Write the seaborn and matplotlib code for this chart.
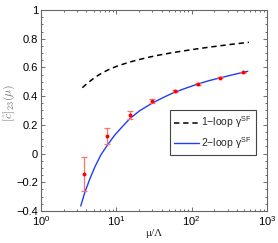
import numpy as np
import pandas as pd
import matplotlib
matplotlib.use("Agg")
import matplotlib.pyplot as plt
import seaborn as sns
from matplotlib.ticker import AutoMinorLocator, LogLocator, NullFormatter, FixedLocator

# ---- data ----
mu_1loop = [3.54, 4.2, 5.21, 6.3, 7.83, 10, 13.0, 17, 21.7, 28, 36.1, 54.4, 80, 120, 170, 240, 350, 577]
c_1loop = [0.459, 0.493, 0.531, 0.558, 0.584, 0.607, 0.627, 0.645, 0.659, 0.673, 0.685, 0.702,
           0.716, 0.730, 0.741, 0.751, 0.762, 0.775]

mu_2loop = [3.37, 3.84, 4.5, 5.21, 6.3, 7.83, 9.5, 11.2, 15.2, 20.6, 31, 45, 57, 80, 117, 170, 238, 350, 556]
c_2loop = [-0.365, -0.266, -0.170, -0.091, -0.005, 0.068, 0.128, 0.170, 0.245, 0.300, 0.356, 0.398,
           0.423, 0.452, 0.482, 0.508, 0.527, 0.549, 0.573]

mu_pts = [3.75, 7.5, 15, 30, 60, 120, 240, 480]
c_pts = [-0.144, 0.124, 0.271, 0.366, 0.434, 0.487, 0.528, 0.566]
c_err = [0.12, 0.054, 0.027, 0.012, 0.008, 0.006, 0.005, 0.005]

legend_labels = ["1\u2212loop \u03b3$^{\\mathrm{SF}}$", "2\u2212loop \u03b3$^{\\mathrm{SF}}$"]
y_ticks = [-0.4, -0.2, 0, 0.2, 0.4, 0.6, 0.8, 1]
y_ticklabels = ["\u22120.4", "\u22120.2", "0", "0.2", "0.4", "0.6", "0.8", "1"]

sns.set_style("ticks")
plt.rcParams["font.family"] = ["Liberation Sans", "DejaVu Sans"]
plt.rcParams["mathtext.fontset"] = "custom"
plt.rcParams["mathtext.rm"] = "Liberation Sans"
plt.rcParams["mathtext.it"] = "Liberation Sans:italic"
plt.rcParams["mathtext.bf"] = "Liberation Sans:bold"

fig = plt.figure(figsize=(2.78, 2.43), dpi=100)
ax = fig.add_axes([41 / 278, 32 / 243, 226 / 278, 201 / 243])

df1 = pd.DataFrame({"mu": mu_1loop, "c": c_1loop})
df2 = pd.DataFrame({"mu": mu_2loop, "c": c_2loop})
sns.lineplot(data=df1, x="mu", y="c", ax=ax, color="black", lw=1.1,
             linestyle=(0, (3.5, 2.5)), label=legend_labels[0], sort=True)
sns.lineplot(data=df2, x="mu", y="c", ax=ax, color="#1f3cff", lw=1.0,
             label=legend_labels[1], sort=True)
ax.errorbar(mu_pts, c_pts, yerr=c_err, fmt="o", ms=1.8, color="red",
            ecolor="#ff7070", elinewidth=0.9, capsize=2.2, capthick=0.9, zorder=5)

ax.set_xscale("log")
ax.set_xlim(1, 1000)
ax.set_ylim(-0.4, 1)
ax.xaxis.set_major_locator(LogLocator(base=10, numticks=10))
ax.xaxis.set_minor_locator(LogLocator(base=10, subs=np.arange(2, 10), numticks=10))
ax.xaxis.set_minor_formatter(NullFormatter())
ax.yaxis.set_major_locator(FixedLocator(y_ticks))
ax.set_yticklabels(y_ticklabels)
ax.yaxis.set_minor_locator(AutoMinorLocator(4))

ax.tick_params(which="both", direction="in", top=True, right=True, colors="#555555",
               labelcolor="black", labelsize=8, width=0.6, pad=2)
ax.tick_params(which="major", length=3)
ax.tick_params(which="minor", length=1.6)
for s in ax.spines.values():
    s.set_color("#666666")
    s.set_linewidth(0.8)

ax.set_xlabel("\u03bc/\u039b", fontsize=8, family="Liberation Serif", labelpad=1)
ax.set_ylabel(r"$[\hat{c}]_{23}(\mu)$", fontsize=8.5, color="#777777",
              math_fontfamily="cm")
ax.yaxis.set_label_coords(-0.105, 0.537)

leg = ax.legend(loc="lower right", bbox_to_anchor=(0.951, 0.279), fontsize=7.5,
                frameon=True, fancybox=False, handlelength=2.4, handletextpad=0.2,
                borderpad=0.4, labelspacing=0.45, borderaxespad=0)
leg.get_frame().set_edgecolor("#444444")
leg.get_frame().set_linewidth(0.8)
leg.get_frame().set_alpha(1)

fig.savefig("out.png", dpi=100)
